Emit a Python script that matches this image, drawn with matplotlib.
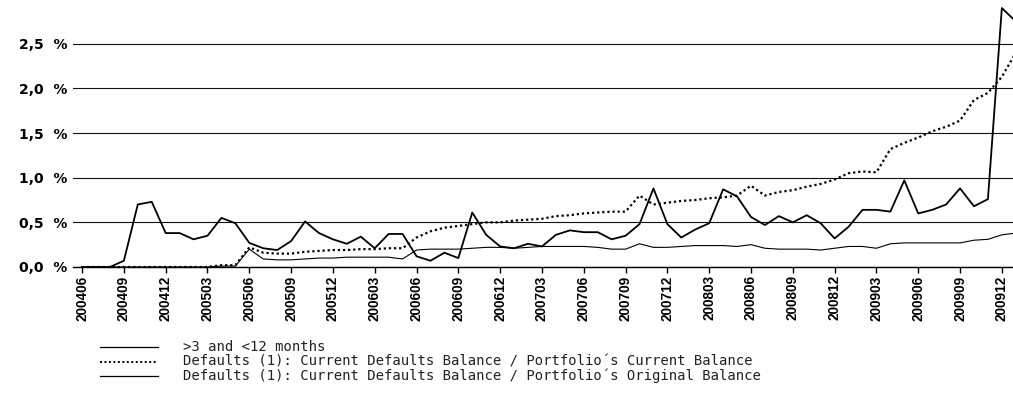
import pandas as pd
import matplotlib
matplotlib.use("Agg")
import matplotlib.pyplot as plt
from matplotlib.lines import Line2D

# monthly reporting periods, 200406 .. 201001
months = pd.period_range("2004-06", "2010-01", freq="M")
month_labels = [p.strftime("%Y%m") for p in months]

# delinquencies >3 and <12 months (% of balance)
arrears_3_12 = [
    0.00, 0.00, 0.00, 0.07, 0.70, 0.73, 0.38, 0.38, 0.31, 0.35,
    0.55, 0.49, 0.27, 0.21, 0.19, 0.29, 0.51, 0.38, 0.31, 0.26,
    0.34, 0.21, 0.37, 0.37, 0.12, 0.07, 0.16, 0.10, 0.61, 0.36,
    0.23, 0.21, 0.26, 0.23, 0.36, 0.41, 0.39, 0.39, 0.31, 0.35,
    0.48, 0.88, 0.48, 0.33, 0.42, 0.49, 0.87, 0.79, 0.56, 0.47,
    0.57, 0.50, 0.58, 0.49, 0.32, 0.45, 0.64, 0.64, 0.62, 0.97,
    0.60, 0.64, 0.70, 0.88, 0.68, 0.76, 2.90, 2.75,
]

# cumulative defaults / current portfolio balance
defaults_current = [
    0.00, 0.00, 0.00, 0.00, 0.00, 0.00, 0.00, 0.00, 0.00, 0.00,
    0.02, 0.02, 0.22, 0.16, 0.15, 0.15, 0.17, 0.18, 0.19, 0.19,
    0.20, 0.20, 0.21, 0.21, 0.33, 0.40, 0.44, 0.46, 0.48, 0.50,
    0.50, 0.52, 0.53, 0.54, 0.57, 0.58, 0.60, 0.61, 0.62, 0.62,
    0.80, 0.70, 0.72, 0.74, 0.75, 0.77, 0.78, 0.80, 0.91, 0.80,
    0.84, 0.86, 0.90, 0.93, 0.98, 1.05, 1.07, 1.06, 1.32, 1.39,
    1.45, 1.52, 1.57, 1.64, 1.87, 1.95, 2.13, 2.40,
]

# cumulative defaults / original portfolio balance
defaults_original = [
    0.00, 0.00, 0.00, 0.00, 0.00, 0.00, 0.00, 0.00, 0.00, 0.00,
    0.01, 0.01, 0.20, 0.09, 0.08, 0.08, 0.09, 0.10, 0.10, 0.11,
    0.11, 0.11, 0.11, 0.09, 0.19, 0.20, 0.20, 0.20, 0.21, 0.22,
    0.22, 0.21, 0.22, 0.23, 0.23, 0.23, 0.23, 0.22, 0.20, 0.20,
    0.26, 0.22, 0.22, 0.23, 0.24, 0.24, 0.24, 0.23, 0.25, 0.21,
    0.20, 0.20, 0.20, 0.19, 0.21, 0.23, 0.23, 0.21, 0.26, 0.27,
    0.27, 0.27, 0.27, 0.27, 0.30, 0.31, 0.36, 0.38,
]

series_labels = [
    ">3 and <12 months",
    "Defaults (1): Current Defaults Balance / Portfolio\u00b4s Current Balance",
    "Defaults (1): Current Defaults Balance / Portfolio\u00b4s Original Balance",
]
y_ticks = [0.0, 0.5, 1.0, 1.5, 2.0, 2.5]

W, H = 1013, 408
fig = plt.figure(figsize=(W / 100, H / 100), dpi=100)
ax = fig.add_axes([73 / W, (H - 267) / H, (W - 73) / W, 267 / H])

x = list(range(len(months)))
styles = [
    dict(color="black", lw=1.3, ls="-"),
    dict(color="black", lw=1.6, ls=(0, (1, 1.3))),
    dict(color="black", lw=0.8, ls="-"),
]
for vals, st in zip([arrears_3_12, defaults_current, defaults_original], styles):
    ax.plot(x, vals, clip_on=False, zorder=3, **st)

ax.set_xlim(-0.65, 66.8)
ax.set_ylim(0, 2.99)

ax.set_yticks(y_ticks)
ax.set_yticklabels([f"{v:.1f}".replace(".", ",") + "  %" for v in y_ticks],
                   fontsize=10, fontweight="bold", family="DejaVu Sans")
ax.tick_params(axis="y", length=0, pad=4)
ax.grid(axis="y", color="#111111", lw=0.8)

ax.set_xticks(x[::3])
ax.set_xticklabels(month_labels[::3], rotation=90, fontsize=9.8,
                   fontweight="bold", family="Liberation Sans")
ax.tick_params(axis="x", length=4, width=1, direction="out", pad=2)

for side in ["left", "top", "right"]:
    ax.spines[side].set_visible(False)
ax.spines["bottom"].set_linewidth(1.0)
ax.set_axisbelow(True)

# legend below the chart
row_y = [347, 361.5, 376]
for st, label, ry in zip(styles, series_labels, row_y):
    yf = (H - ry) / H
    fig.add_artist(Line2D([100 / W, 158 / W], [yf, yf], transform=fig.transFigure,
                          color="black", lw=0.9 if st["ls"] == "-" else 1.4,
                          ls=st["ls"]))
    fig.text(183 / W, yf, label, fontsize=10, color="#222222",
             va="center", ha="left", family="DejaVu Sans Mono")

fig.savefig("out.png", dpi=100)
